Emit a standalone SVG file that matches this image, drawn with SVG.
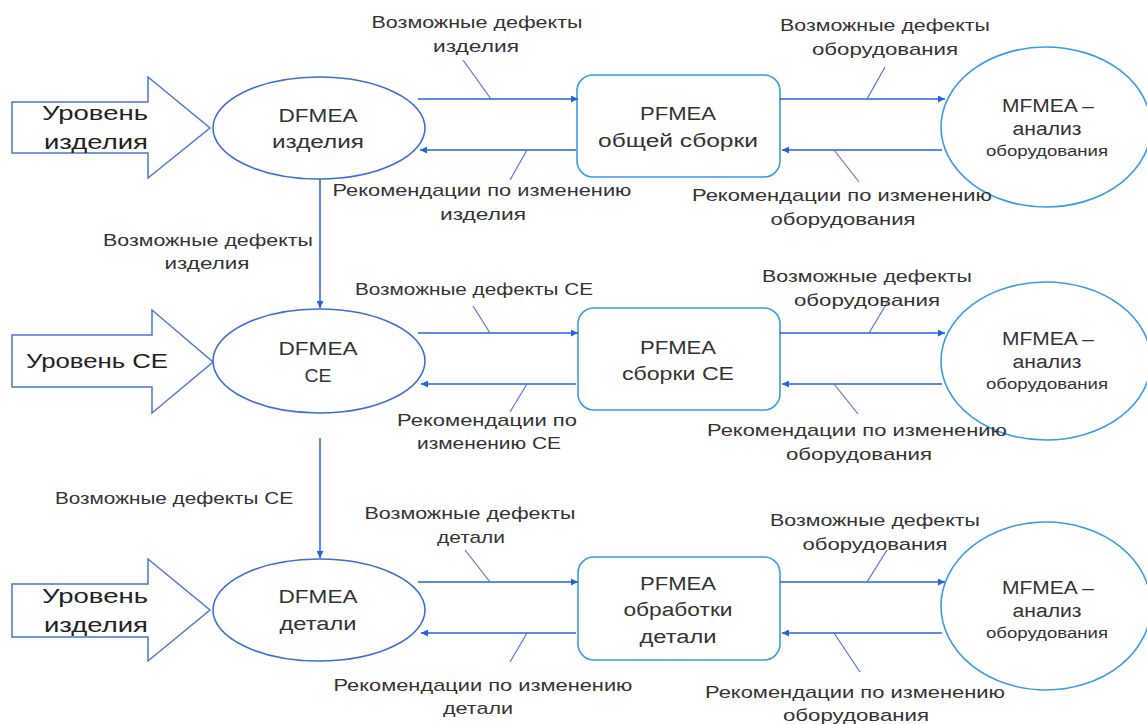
<svg xmlns="http://www.w3.org/2000/svg" width="1147" height="724" viewBox="0 0 1147 724">
<defs>
<style>
.lbl{font-family:"Liberation Sans",Arial,sans-serif;font-size:17px;fill:#333;text-anchor:middle}
.big{font-family:"Liberation Sans",Arial,sans-serif;font-size:21px;fill:#222;text-anchor:middle}
.nd{font-family:"Liberation Sans",Arial,sans-serif;font-size:18px;fill:#333;text-anchor:middle}
.sm{font-family:"Liberation Sans",Arial,sans-serif;font-size:14px;fill:#333;text-anchor:middle}
.lvl{fill:#fff;stroke:#4a78d4;stroke-width:1.5}
.dfm{fill:#fff;stroke:#3e6fd2;stroke-width:1.6}
.pf{fill:#fff;stroke:#3a9be8;stroke-width:1.6}
.con{stroke:#2463e0;stroke-width:1.5;fill:none;marker-end:url(#ah)}
.tick{stroke:#5b6fe0;stroke-width:1.2;fill:none}
</style>
<marker id="ah" viewBox="0 0 10 10" refX="10" refY="5" markerWidth="7" markerHeight="7" markerUnits="userSpaceOnUse" orient="auto">
<path d="M0,0 L10,5 L0,10 z" fill="#2463e0"/>
</marker>
</defs>
<rect width="1147" height="724" fill="#fff"/>

<g id="level1">
<polygon class="lvl" points="12,102 148,102 148,77 210,128 148,178 148,153 12,153"/>
<text class="big" x="95" y="120" textLength="106" lengthAdjust="spacingAndGlyphs">Уровень</text>
<text class="big" x="96" y="149" textLength="104" lengthAdjust="spacingAndGlyphs">изделия</text>
</g>
<g id="level2">
<polygon class="lvl" points="12,335 152,335 152,310 213,362 152,413 152,387 12,387"/>
<text class="big" x="97" y="368" textLength="142" lengthAdjust="spacingAndGlyphs">Уровень CE</text>
</g>
<g id="level3">
<polygon class="lvl" points="12,584 148,584 148,559 210,610 148,661 148,637 12,637"/>
<text class="big" x="95" y="603" textLength="106" lengthAdjust="spacingAndGlyphs">Уровень</text>
<text class="big" x="96" y="632" textLength="104" lengthAdjust="spacingAndGlyphs">изделия</text>
</g>

<g id="dfmea1">
<ellipse class="dfm" cx="319" cy="128" rx="106" ry="51"/>
<text class="nd" x="318" y="122" textLength="79" lengthAdjust="spacingAndGlyphs">DFMEA</text>
<text class="nd" x="318" y="148" textLength="92" lengthAdjust="spacingAndGlyphs">изделия</text>
</g>
<g id="dfmea2">
<ellipse class="dfm" cx="319" cy="361" rx="106" ry="52"/>
<text class="nd" x="318" y="355" textLength="79" lengthAdjust="spacingAndGlyphs">DFMEA</text>
<text class="nd" x="318" y="382" textLength="27" lengthAdjust="spacingAndGlyphs">CE</text>
</g>
<g id="dfmea3">
<ellipse class="dfm" cx="319" cy="610" rx="106" ry="51"/>
<text class="nd" x="318" y="603" textLength="79" lengthAdjust="spacingAndGlyphs">DFMEA</text>
<text class="nd" x="318" y="630" textLength="77" lengthAdjust="spacingAndGlyphs">детали</text>
</g>

<g id="pfmea1">
<rect class="pf" x="577" y="75" width="203" height="102" rx="16"/>
<text class="nd" x="678" y="120" textLength="76" lengthAdjust="spacingAndGlyphs">PFMEA</text>
<text class="nd" x="678" y="147" textLength="160" lengthAdjust="spacingAndGlyphs">общей сборки</text>
</g>
<g id="pfmea2">
<rect class="pf" x="578" y="308" width="202" height="102" rx="16"/>
<text class="nd" x="678" y="354" textLength="76" lengthAdjust="spacingAndGlyphs">PFMEA</text>
<text class="nd" x="678" y="380" textLength="112" lengthAdjust="spacingAndGlyphs">сборки CE</text>
</g>
<g id="pfmea3">
<rect class="pf" x="578" y="557" width="202" height="103" rx="16"/>
<text class="nd" x="678" y="590" textLength="76" lengthAdjust="spacingAndGlyphs">PFMEA</text>
<text class="nd" x="678" y="616" textLength="109" lengthAdjust="spacingAndGlyphs">обработки</text>
<text class="nd" x="678" y="643" textLength="77" lengthAdjust="spacingAndGlyphs">детали</text>
</g>

<g id="mfmea1">
<ellipse class="pf" cx="1046" cy="127" rx="105" ry="80"/>
<text class="nd" x="1048" y="112" textLength="92" lengthAdjust="spacingAndGlyphs">MFMEA –</text>
<text class="nd" x="1047" y="135" textLength="69" lengthAdjust="spacingAndGlyphs">анализ</text>
<text class="sm" x="1047" y="156" textLength="122" lengthAdjust="spacingAndGlyphs">оборудования</text>
</g>
<g id="mfmea2">
<ellipse class="pf" cx="1046" cy="361" rx="105" ry="79"/>
<text class="nd" x="1048" y="345" textLength="92" lengthAdjust="spacingAndGlyphs">MFMEA –</text>
<text class="nd" x="1047" y="368" textLength="69" lengthAdjust="spacingAndGlyphs">анализ</text>
<text class="sm" x="1047" y="389" textLength="122" lengthAdjust="spacingAndGlyphs">оборудования</text>
</g>
<g id="mfmea3">
<ellipse class="pf" cx="1046" cy="606" rx="105" ry="84"/>
<text class="nd" x="1048" y="594" textLength="92" lengthAdjust="spacingAndGlyphs">MFMEA –</text>
<text class="nd" x="1047" y="617" textLength="69" lengthAdjust="spacingAndGlyphs">анализ</text>
<text class="sm" x="1047" y="638" textLength="122" lengthAdjust="spacingAndGlyphs">оборудования</text>
</g>

<g id="connectors">
<line class="con" x1="418" y1="99" x2="578" y2="99"/>
<line class="con" x1="576" y1="150" x2="420" y2="150"/>
<line class="con" x1="780" y1="99" x2="945" y2="99"/>
<line class="con" x1="942" y1="150" x2="782" y2="150"/>
<line class="con" x1="320" y1="179" x2="320" y2="308"/>
<line class="tick" x1="463" y1="60" x2="491" y2="99"/>
<line class="tick" x1="527" y1="150" x2="510" y2="180"/>
<line class="tick" x1="885" y1="67" x2="867" y2="99"/>
<line class="tick" x1="834" y1="150" x2="859" y2="182"/>

<line class="con" x1="418" y1="333" x2="578" y2="333"/>
<line class="con" x1="576" y1="384" x2="421" y2="384"/>
<line class="con" x1="780" y1="333" x2="945" y2="333"/>
<line class="con" x1="942" y1="384" x2="782" y2="384"/>
<line class="con" x1="320" y1="438" x2="320" y2="558"/>
<line class="tick" x1="473" y1="306" x2="490" y2="333"/>
<line class="tick" x1="527" y1="384" x2="510" y2="412"/>
<line class="tick" x1="887" y1="303" x2="869" y2="333"/>
<line class="tick" x1="834" y1="384" x2="858" y2="414"/>

<line class="con" x1="418" y1="582" x2="578" y2="582"/>
<line class="con" x1="576" y1="633" x2="421" y2="633"/>
<line class="con" x1="780" y1="582" x2="945" y2="582"/>
<line class="con" x1="942" y1="633" x2="782" y2="633"/>
<line class="tick" x1="465" y1="550" x2="490" y2="582"/>
<line class="tick" x1="527" y1="633" x2="510" y2="662"/>
<line class="tick" x1="887" y1="550" x2="867" y2="582"/>
<line class="tick" x1="834" y1="633" x2="860" y2="672"/>
</g>

<g id="labels">
<text class="lbl" x="477" y="28" textLength="211" lengthAdjust="spacingAndGlyphs">Возможные дефекты</text>
<text class="lbl" x="476" y="52" textLength="86" lengthAdjust="spacingAndGlyphs">изделия</text>
<text class="lbl" x="885" y="31" textLength="210" lengthAdjust="spacingAndGlyphs">Возможные дефекты</text>
<text class="lbl" x="885" y="55" textLength="146" lengthAdjust="spacingAndGlyphs">оборудования</text>
<text class="lbl" x="482" y="196" textLength="299" lengthAdjust="spacingAndGlyphs">Рекомендации по изменению</text>
<text class="lbl" x="483" y="220" textLength="86" lengthAdjust="spacingAndGlyphs">изделия</text>
<text class="lbl" x="842" y="201" textLength="300" lengthAdjust="spacingAndGlyphs">Рекомендации по изменению</text>
<text class="lbl" x="843" y="225" textLength="145" lengthAdjust="spacingAndGlyphs">оборудования</text>
<text class="lbl" x="208" y="246" textLength="210" lengthAdjust="spacingAndGlyphs">Возможные дефекты</text>
<text class="lbl" x="207" y="269" textLength="85" lengthAdjust="spacingAndGlyphs">изделия</text>

<text class="lbl" x="474" y="295" textLength="238" lengthAdjust="spacingAndGlyphs">Возможные дефекты CE</text>
<text class="lbl" x="867" y="282" textLength="210" lengthAdjust="spacingAndGlyphs">Возможные дефекты</text>
<text class="lbl" x="867" y="306" textLength="146" lengthAdjust="spacingAndGlyphs">оборудования</text>
<text class="lbl" x="487" y="426" textLength="180" lengthAdjust="spacingAndGlyphs">Рекомендации по</text>
<text class="lbl" x="489" y="449" textLength="144" lengthAdjust="spacingAndGlyphs">изменению CE</text>
<text class="lbl" x="857" y="436" textLength="300" lengthAdjust="spacingAndGlyphs">Рекомендации по изменению</text>
<text class="lbl" x="859" y="460" textLength="146" lengthAdjust="spacingAndGlyphs">оборудования</text>
<text class="lbl" x="174" y="504" textLength="238" lengthAdjust="spacingAndGlyphs">Возможные дефекты CE</text>

<text class="lbl" x="470" y="519" textLength="211" lengthAdjust="spacingAndGlyphs">Возможные дефекты</text>
<text class="lbl" x="471" y="543" textLength="68" lengthAdjust="spacingAndGlyphs">детали</text>
<text class="lbl" x="875" y="526" textLength="210" lengthAdjust="spacingAndGlyphs">Возможные дефекты</text>
<text class="lbl" x="875" y="550" textLength="145" lengthAdjust="spacingAndGlyphs">оборудования</text>
<text class="lbl" x="483" y="691" textLength="299" lengthAdjust="spacingAndGlyphs">Рекомендации по изменению</text>
<text class="lbl" x="478" y="714" textLength="70" lengthAdjust="spacingAndGlyphs">детали</text>
<text class="lbl" x="855" y="698" textLength="300" lengthAdjust="spacingAndGlyphs">Рекомендации по изменению</text>
<text class="lbl" x="856" y="721" textLength="146" lengthAdjust="spacingAndGlyphs">оборудования</text>
</g>
</svg>
